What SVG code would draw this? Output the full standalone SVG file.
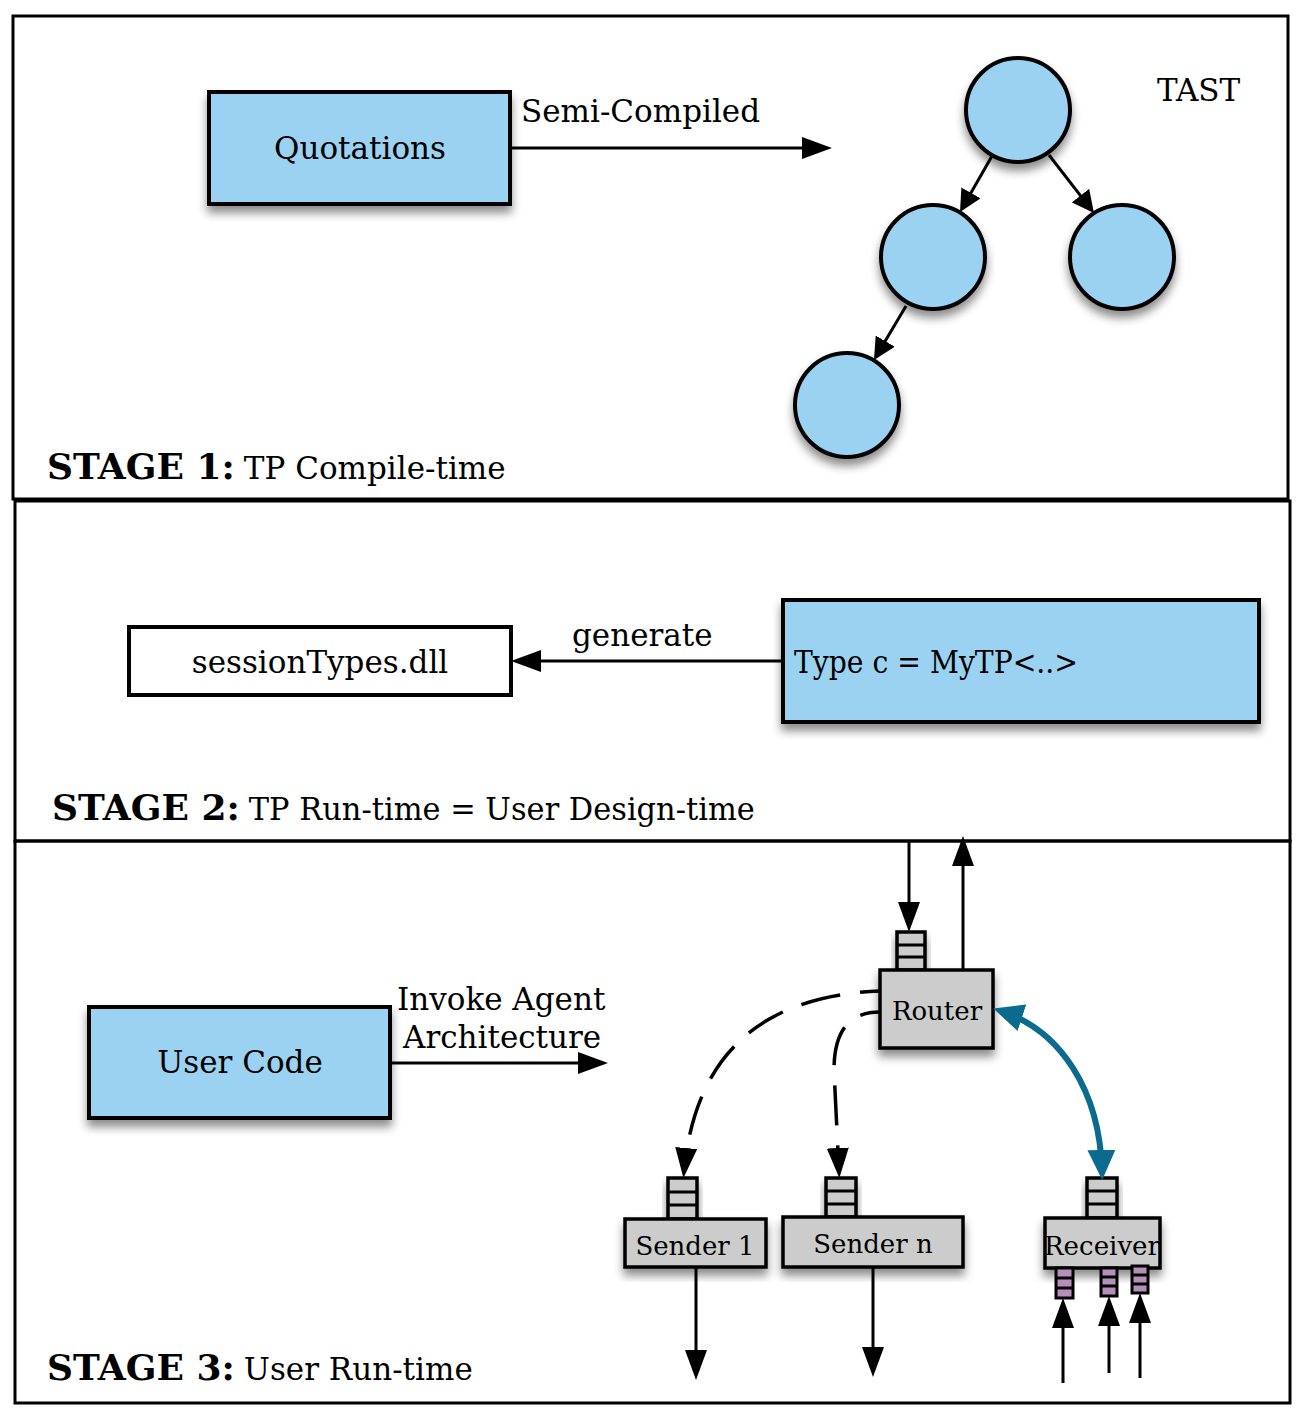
<svg xmlns="http://www.w3.org/2000/svg" width="1298" height="1410" viewBox="0 0 1298 1410">
<style>
.frame{fill:none;stroke:#000;stroke-width:3}
.blue{fill:#9bd2f2;stroke:#000;stroke-width:4}
.white{fill:#fff;stroke:#000;stroke-width:4}
.gray{fill:#cccccc;stroke:#000;stroke-width:3.5}
.purple{fill:#b58fba;stroke:#000;stroke-width:3}
.ql{stroke:#000;stroke-width:3}
.t{font-family:"DejaVu Serif","Liberation Serif",serif;fill:#000}
.lbl{font-size:31px}
.sm{font-size:26px}
.stb{font-family:"DejaVu Serif","Liberation Serif",serif;font-weight:bold;font-size:36px}
.line{fill:none;stroke:#000;stroke-width:3}
.dash{fill:none;stroke:#000;stroke-width:3.5;stroke-dasharray:40 20;stroke-dashoffset:20}
.bl{fill:none;stroke:#0b6b8f;stroke-width:6}
</style>
<defs>
<filter id="sh" x="-20%" y="-20%" width="140%" height="150%">
<feDropShadow dx="0" dy="7" stdDeviation="5" flood-color="#000" flood-opacity="0.45"/>
</filter>
<marker id="ah" markerUnits="userSpaceOnUse" markerWidth="30" markerHeight="22" refX="24" refY="11" orient="auto">
<path d="M0,0 L30,11 L0,22 z" fill="#000"/>
</marker>
<marker id="ahs" markerUnits="userSpaceOnUse" markerWidth="22" markerHeight="22" refX="18" refY="11" orient="auto">
<path d="M0,0 L22,11 L0,22 z" fill="#000"/>
</marker>
<marker id="ahb" markerUnits="userSpaceOnUse" markerWidth="30" markerHeight="28" refX="22" refY="14" orient="auto-start-reverse">
<path d="M0,0 L30,14 L0,28 z" fill="#0b6b8f"/>
</marker>
</defs>
<rect width="1298" height="1410" fill="#fff"/>

<g id="stage1">
<rect class="frame" x="13" y="16" width="1275" height="483"/>
<text class="t" x="47" y="479"><tspan class="stb">STAGE 1:</tspan><tspan class="lbl" dx="9">TP Compile-time</tspan></text>
</g>
<g id="stage2">
<rect class="frame" x="15" y="501" width="1275" height="340"/>
<text class="t" x="52" y="820"><tspan class="stb">STAGE 2:</tspan><tspan class="lbl" dx="9" textLength="506" lengthAdjust="spacingAndGlyphs">TP Run-time = User Design-time</tspan></text>
</g>
<g id="stage3">
<rect class="frame" x="15" y="841" width="1275" height="562"/>
<text class="t" x="47" y="1380"><tspan class="stb">STAGE 3:</tspan><tspan class="lbl" dx="9">User Run-time</tspan></text>
</g>

<g id="quotations">
<rect class="blue" x="209" y="92" width="301" height="112" filter="url(#sh)"/>
<text class="t lbl" x="360" y="159" text-anchor="middle">Quotations</text>
</g>
<g id="tast-label">
<text class="t lbl" x="1157" y="101">TAST</text>
</g>
<g id="tast-root"><circle class="blue" cx="1018" cy="110" r="52" filter="url(#sh)"/></g>
<g id="tast-left"><circle class="blue" cx="933" cy="257" r="52" filter="url(#sh)"/></g>
<g id="tast-right"><circle class="blue" cx="1122" cy="257" r="52" filter="url(#sh)"/></g>
<g id="tast-bottom"><circle class="blue" cx="847" cy="405" r="52" filter="url(#sh)"/></g>

<g id="sessiontypes">
<rect class="white" x="129" y="627" width="382" height="68"/>
<text class="t lbl" x="320" y="673" text-anchor="middle">sessionTypes.dll</text>
</g>
<g id="typec">
<rect class="blue" x="783" y="600" width="476" height="122" filter="url(#sh)"/>
<text class="t lbl" x="794" y="673" textLength="284" lengthAdjust="spacingAndGlyphs">Type c = MyTP&lt;..&gt;</text>
</g>

<g id="usercode">
<rect class="blue" x="89" y="1007" width="301" height="111" filter="url(#sh)"/>
<text class="t lbl" x="240" y="1073" text-anchor="middle">User Code</text>
</g>

<g id="router">
<rect class="gray" x="897" y="932" width="28" height="38" filter="url(#sh)"/>
<line class="ql" x1="897" y1="945" x2="925" y2="945"/>
<line class="ql" x1="897" y1="957" x2="925" y2="957"/>
<rect class="gray" x="880" y="970" width="113" height="78" filter="url(#sh)"/>
<text class="t sm" x="937" y="1020" text-anchor="middle">Router</text>
</g>

<g id="sender1">
<rect class="gray" x="668" y="1178" width="29" height="41" filter="url(#sh)"/>
<line class="ql" x1="668" y1="1192" x2="697" y2="1192"/>
<line class="ql" x1="668" y1="1205" x2="697" y2="1205"/>
<rect class="gray" x="625" y="1219" width="141" height="48" filter="url(#sh)"/>
<text class="t sm" x="695" y="1255" text-anchor="middle">Sender 1</text>
</g>

<g id="sendern">
<rect class="gray" x="826" y="1178" width="30" height="39" filter="url(#sh)"/>
<line class="ql" x1="826" y1="1191" x2="856" y2="1191"/>
<line class="ql" x1="826" y1="1204" x2="856" y2="1204"/>
<rect class="gray" x="783" y="1217" width="180" height="50" filter="url(#sh)"/>
<text class="t sm" x="873" y="1253" text-anchor="middle">Sender n</text>
</g>

<g id="receiver">
<rect class="gray" x="1087" y="1178" width="30" height="40" filter="url(#sh)"/>
<line class="ql" x1="1087" y1="1191" x2="1117" y2="1191"/>
<line class="ql" x1="1087" y1="1204" x2="1117" y2="1204"/>
<rect class="gray" x="1045" y="1218" width="115" height="50" filter="url(#sh)"/>
<rect class="purple" x="1056" y="1268" width="17" height="30"/>
<line class="ql" x1="1056" y1="1278" x2="1073" y2="1278"/>
<line class="ql" x1="1056" y1="1288" x2="1073" y2="1288"/>
<rect class="purple" x="1101" y="1268" width="16" height="28"/>
<line class="ql" x1="1101" y1="1277" x2="1117" y2="1277"/>
<line class="ql" x1="1101" y1="1286" x2="1117" y2="1286"/>
<rect class="purple" x="1132" y="1266" width="16" height="27"/>
<line class="ql" x1="1132" y1="1275" x2="1148" y2="1275"/>
<line class="ql" x1="1132" y1="1284" x2="1148" y2="1284"/>
<text class="t sm" x="1102" y="1255" text-anchor="middle" textLength="116" lengthAdjust="spacingAndGlyphs">Receiver</text>
</g>

<g id="connectors">
<line class="line" x1="510" y1="148" x2="826" y2="148" marker-end="url(#ah)"/>
<text class="t lbl" x="521" y="122">Semi-Compiled</text>
<line class="line" x1="992" y1="156" x2="962" y2="208.5" marker-end="url(#ahs)"/>
<line class="line" x1="1049" y1="155" x2="1091.5" y2="209.8" marker-end="url(#ahs)"/>
<line class="line" x1="906" y1="306" x2="876" y2="356.6" marker-end="url(#ahs)"/>
<line class="line" x1="783" y1="661" x2="517" y2="661" marker-end="url(#ah)"/>
<text class="t lbl" x="572" y="646">generate</text>
<line class="line" x1="390" y1="1063" x2="602" y2="1063" marker-end="url(#ah)"/>
<text class="t lbl" x="397" y="1010">Invoke Agent</text>
<text class="t lbl" x="403" y="1048">Architecture</text>
<line class="line" x1="909" y1="841" x2="909" y2="926" marker-end="url(#ah)"/>
<line class="line" x1="963" y1="970" x2="963" y2="842" marker-end="url(#ah)"/>
<path class="dash" d="M880,991 Q700,998 684,1172" marker-end="url(#ah)"/>
<path class="dash" d="M880,1012 C850,1012 834,1030 834,1070 L839,1172" marker-end="url(#ah)"/>
<path class="bl" d="M1001,1011 C1060,1030 1100,1090 1102,1172" marker-start="url(#ahb)" marker-end="url(#ahb)"/>
<line class="line" x1="696" y1="1267" x2="696" y2="1374" marker-end="url(#ah)"/>
<line class="line" x1="873" y1="1267" x2="873" y2="1371" marker-end="url(#ah)"/>
<line class="line" x1="1063" y1="1383" x2="1063" y2="1304" marker-end="url(#ah)"/>
<line class="line" x1="1109" y1="1373" x2="1109" y2="1302" marker-end="url(#ah)"/>
<line class="line" x1="1140" y1="1378" x2="1140" y2="1299" marker-end="url(#ah)"/>
</g>
</svg>
